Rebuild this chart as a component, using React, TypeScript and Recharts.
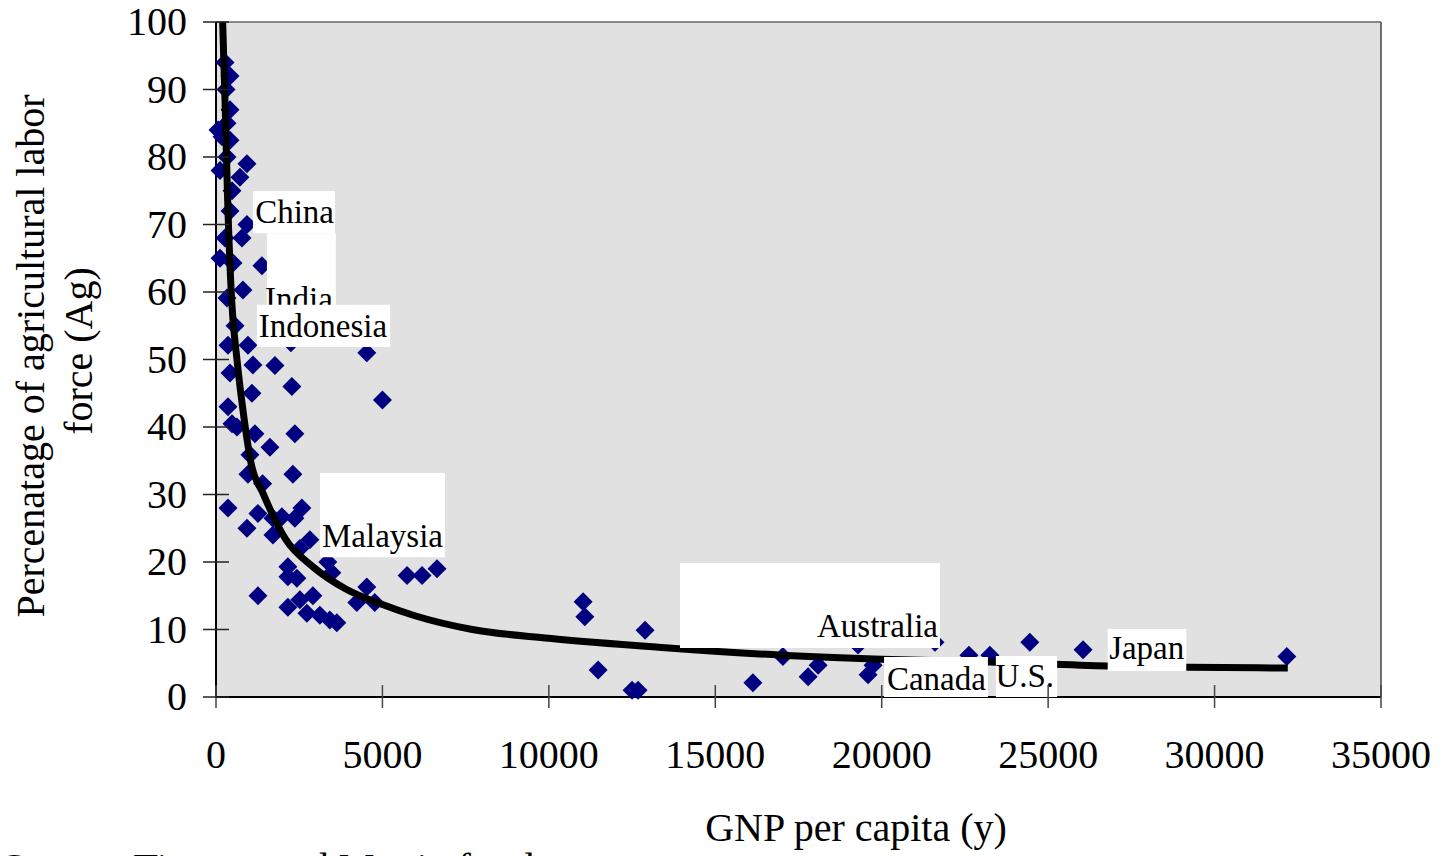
import {
    ScatterChart,
    Scatter,
    XAxis,
    YAxis,
    CartesianGrid,
    ReferenceArea,
    ReferenceLine,
} from 'recharts';

// GNP per capita (x) and share of agricultural labor force (y)
const GNP = [
    270, 420, 300, 420, 330, 60, 180, 420, 330, 930, 120, 720, 480, 420, 930, 270, 780, 120, 510, 1380,
    810, 330, 570, 360, 960, 1110, 1770, 420, 2280, 1080, 360, 630, 480, 1170, 2370, 1620, 1020, 960, 2310, 1400,
    360, 1260, 2580, 1980, 2370, 1710, 930, 1710, 2820, 2520, 3360, 2160, 3480, 2160, 2430, 4530, 5740, 6190, 6640, 1260,
    2910, 2520, 2160, 4230, 4770, 2730, 3120, 3420, 3630, 4530, 5000, 2250,
    11030, 11080, 11480, 12890, 12500, 12680, 16130, 17030, 17790, 18090, 19290, 19590, 19740, 21600, 22620, 23250, 24450, 26050, 32170,
];
const AG = [
    94, 92, 90, 87, 85, 84, 83, 82.5, 80, 79, 78, 77, 75, 72, 70, 68, 68, 65, 64.3, 63.9,
    60.3, 59.1, 55, 52.1, 52.1, 49.2, 49.1, 48, 46, 45, 43, 40, 40.5, 39, 39, 37, 35.9, 33, 33, 31.6,
    28, 27.2, 28, 26.7, 26.5, 26.5, 25, 24, 23.3, 22, 20, 19.3, 18.4, 17.8, 17.6, 16.3, 18, 18, 19, 15,
    15, 14.4, 13.3, 14, 14, 12.4, 12.1, 11.4, 11, 51, 44, 52.5,
    14.1, 11.9, 4, 9.9, 1, 1, 2.1, 6, 3, 4.7, 7.7, 3.3, 4.7, 8.1, 6.2, 6.2, 8.1, 7, 6,
];

// fitted trend line
const TREND_X = [200, 270, 350, 470, 630, 810, 1060, 1410, 2100, 2910, 3900, 5000, 6000, 7700, 10000, 13500, 17000, 20000, 23250, 26800, 29200, 32200];
const TREND_Y = [100, 88.4, 73.6, 58.8, 50, 42.5, 34.5, 30.2, 23.3, 19.3, 16, 13.7, 12, 10, 8.7, 7.3, 6.2, 5.6, 5.2, 4.6, 4.4, 4.3];

const X_TICKS = [0, 5000, 10000, 15000, 20000, 25000, 30000, 35000];
const Y_TICKS = [0, 10, 20, 30, 40, 50, 60, 70, 80, 90, 100];

const COUNTRY_LABELS = ['China', 'India', 'Indonesia', 'Malaysia', 'Australia', 'Canada', 'U.S.', 'Japan'];

// white label boxes (data space) with text padding in px
const LABEL_BOXES = [
    { x1: 1110, x2: 3575, y1: 68.7, y2: 74.96, padB: 10, padR: 1 },
    { x1: 1530, x2: 3600, y1: 58.1, y2: 68.7, padB: -5, padR: 3 },
    { x1: 1230, x2: 5230, y1: 51.85, y2: 58.1, padB: 10, padR: 3 },
    { x1: 3125, x2: 6880, y1: 20.7, y2: 33.2, padB: 10, padR: 2 },
    { x1: 13940, x2: 21750, y1: 7.26, y2: 19.85, padB: 11, padR: 2 },
    { x1: 20070, x2: 23190, y1: 0, y2: 5.93, padB: 7, padR: 2 },
    { x1: 23430, x2: 25270, y1: 0, y2: 6.07, padB: 10, padR: 3 },
    { x1: 26790, x2: 29150, y1: 3.85, y2: 10.07, padB: 12, padR: 2 },
];

const FONT = '"Liberation Serif", "Times New Roman", serif';

const points = GNP.map((x, i) => ({ x, y: AG[i] }));
const trend = TREND_X.map((x, i) => ({ x, y: TREND_Y[i] }));

function Diamond(props: any) {
    const { cx, cy } = props;
    if (cx == null || cy == null) return null;
    const r = 9.5;
    return (
        <polygon
            points={`${cx},${cy - r} ${cx + r},${cy} ${cx},${cy + r} ${cx - r},${cy}`}
            fill="#000080"
        />
    );
}

function XTick(props: any) {
    const { x, y, payload } = props;
    return (
        <g>
            <line x1={x} x2={x} y1={y - 12} y2={y + 11} stroke="#444" strokeWidth={1.5} />
            <text x={x} y={y + 71} textAnchor="middle" fontFamily={FONT} fontSize={40} fill="#000">
                {payload.value}
            </text>
        </g>
    );
}

function YTick(props: any) {
    const { x, y, payload } = props;
    return (
        <g>
            <line x1={x - 13} x2={x + 13} y1={y} y2={y} stroke="#222" strokeWidth={1.5} />
            <text x={x - 29} y={y + 13} textAnchor="end" fontFamily={FONT} fontSize={40} fill="#000">
                {payload.value}
            </text>
        </g>
    );
}

export default function App() {
    return (
        <div style={{ position: 'absolute', left: 0, top: 0, width: 1452, height: 856, background: '#fff', overflow: 'hidden' }}>
            <ScatterChart width={1452} height={856} margin={{ top: 22, right: 71, left: 0, bottom: 0 }}>
                <CartesianGrid fill="#E1E1E1" stroke="none" horizontal={false} vertical={false} />
                <XAxis
                    type="number"
                    dataKey="x"
                    domain={[0, 35000]}
                    ticks={X_TICKS}
                    interval={0}
                    height={159}
                    tickSize={0}
                    tickMargin={0}
                    tickLine={false}
                    tick={<XTick />}
                    axisLine={{ stroke: '#000', strokeWidth: 2 }}
                    label={() => (
                        <text x={856} y={841} textAnchor="middle" fontFamily={FONT} fontSize={40} fill="#000">
                            GNP per capita (y)
                        </text>
                    )}
                />
                <YAxis
                    type="number"
                    dataKey="y"
                    domain={[0, 100]}
                    ticks={Y_TICKS}
                    interval={0}
                    width={216}
                    tickSize={0}
                    tickMargin={0}
                    tickLine={false}
                    tick={<YTick />}
                    axisLine={{ stroke: '#000', strokeWidth: 2 }}
                    label={() => (
                        <g fontFamily={FONT} fontSize={40} fill="#000">
                            <text x={44} y={356} textAnchor="middle" transform="rotate(-90 44 356)">
                                Percenatage of agricultural labor
                            </text>
                            <text x={92} y={351} textAnchor="middle" transform="rotate(-90 92 351)">
                                force (Ag)
                            </text>
                        </g>
                    )}
                />
                <ReferenceLine y={100} stroke="#666" strokeWidth={1.5} />
                <ReferenceLine x={35000} stroke="#444" strokeWidth={1.5} />
                <Scatter data={points} shape={<Diamond />} isAnimationActive={false} />
                <Scatter
                    data={trend}
                    fill="#000"
                    line={{ stroke: '#000', strokeWidth: 7 }}
                    lineJointType="monotoneX"
                    shape={() => <g />}
                    isAnimationActive={false}
                />
                {LABEL_BOXES.map((b, i) => (
                    <ReferenceArea
                        key={COUNTRY_LABELS[i]}
                        x1={b.x1}
                        x2={b.x2}
                        y1={b.y1}
                        y2={b.y2}
                        fill="#fff"
                        fillOpacity={1}
                        stroke="none"
                        zIndex={1000 + i}
                        label={(p: any) => {
                            const vb = p.viewBox;
                            return (
                                <text
                                    x={vb.x + vb.width - b.padR}
                                    y={vb.y + vb.height - b.padB}
                                    textAnchor="end"
                                    fontFamily={FONT}
                                    fontSize={33}
                                    fill="#000"
                                >
                                    {COUNTRY_LABELS[i]}
                                </text>
                            );
                        }}
                    />
                ))}
            </ScatterChart>
            <svg width={1452} height={856} style={{ position: 'absolute', left: 0, top: 0, pointerEvents: 'none' }}>
                <text x={2} y={881} fontFamily={FONT} fontSize={40} fill="#000">
                    Source:   Timmer and Martin for data
                </text>
            </svg>
        </div>
    );
}
